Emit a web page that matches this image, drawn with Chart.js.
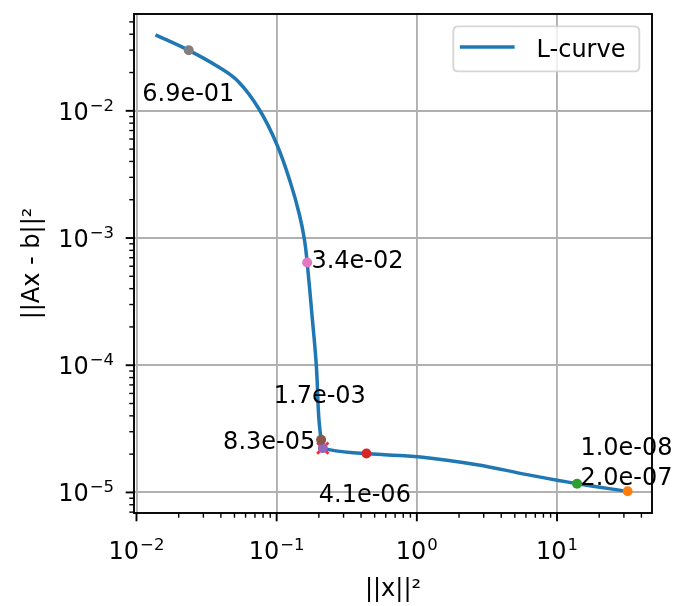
<!DOCTYPE html>
<html lang="en">
<head>
<meta charset="UTF-8">
<title>L-curve</title>
<script src="https://cdn.jsdelivr.net/npm/chart.js@4.4.1/dist/chart.umd.min.js"></script>
<style>
    html, body { margin: 0; padding: 0; background: #fff; }
    #wrap { width: 678px; height: 606px; }
</style>
</head>
<body>
<div id="wrap"><canvas id="lcurve" width="678" height="606"></canvas></div>
<script>
// L-curve samples: ||x||^2 on x, ||Ax - b||^2 on y (both log)
const curveX = [0.01366, 0.0236, 0.03721, 0.05339, 0.0754, 0.1005, 0.1255, 0.1454, 0.1579, 0.165, 0.179, 0.192, 0.1996, 0.2076, 0.2133, 0.437, 1.061, 2.69, 6.12, 13.9, 31.9];
const curveY = [0.0396, 0.0299, 0.02262, 0.01694, 0.0102, 0.005414, 0.002721, 0.001525, 9.7e-4, 6.43e-4, 2.42e-4, 9.8e-5, 3.95e-5, 2.59e-5, 2.23e-5, 2.02e-5, 1.90e-5, 1.65e-5, 1.38e-5, 1.17e-5, 1.02e-5];

// marked regularisation parameters
const lambdaText = ['1.0e-08', '2.0e-07', '4.1e-06', '8.3e-05', '1.7e-03', '3.4e-02', '6.9e-01'];
const markX = [31.9, 13.9, 0.437, 0.2133, 0.2076, 0.165, 0.0236];
const markY = [1.02e-5, 1.17e-5, 2.02e-5, 2.23e-5, 2.59e-5, 6.43e-4, 0.0299];
// where each lambda label sits (data coords, left/baseline)
const labelX = [14.69, 14.69, 0.1997, 0.0415, 0.0953, 0.177, 0.01099];
const labelY = [1.96e-5, 1.15e-5, 8.45e-6, 2.21e-5, 5.05e-5, 5.85e-4, 0.01186];

// chosen corner
const cornerX = [0.2133];
const cornerY = [2.23e-5];

// major ticks
const xMajor = [1e-2, 1e-1, 1e0, 1e1];
const yMajor = [1e-5, 1e-4, 1e-3, 1e-2];
const xExp = ['\u22122', '\u22121', '0', '1'];
const yExp = ['\u22125', '\u22124', '\u22123', '\u22122'];

const X_MIN = 0.0096, X_MAX = 47.6;
const Y_MIN = 6.89e-6, Y_MAX = 0.0577;

const markColors = ['#ff7f0e', '#2ca02c', '#d62728', '#9467bd', '#8c564b', '#e377c2', '#7f7f7f'];
const FONT = '"DejaVu Sans", sans-serif';

function minorsBetween(lo, hi) {
    const out = [];
    for (let e = Math.floor(Math.log10(lo)); e <= Math.ceil(Math.log10(hi)); e++) {
        for (let m = 2; m <= 9; m++) {
            const v = m * Math.pow(10, e);
            if (v >= lo && v <= hi) out.push(v);
        }
    }
    return out;
}

function roundRect(ctx, x, y, w, h, r) {
    ctx.beginPath();
    ctx.moveTo(x + r, y);
    ctx.lineTo(x + w - r, y);
    ctx.quadraticCurveTo(x + w, y, x + w, y + r);
    ctx.lineTo(x + w, y + h - r);
    ctx.quadraticCurveTo(x + w, y + h, x + w - r, y + h);
    ctx.lineTo(x + r, y + h);
    ctx.quadraticCurveTo(x, y + h, x, y + h - r);
    ctx.lineTo(x, y + r);
    ctx.quadraticCurveTo(x, y, x + r, y);
    ctx.closePath();
}

// spines, tick marks, mathtext-like tick labels, annotations, legend
const axesDecor = {
    id: 'axesDecor',
    afterDatasetsDraw(chart) {
        const { ctx, chartArea: a, scales: { x, y } } = chart;
        ctx.save();

        // tick marks (outward)
        ctx.strokeStyle = '#000';
        xMajor.forEach(v => {
            const px = x.getPixelForValue(v);
            ctx.lineWidth = 1.9;
            ctx.beginPath(); ctx.moveTo(px, a.bottom); ctx.lineTo(px, a.bottom + 8.3); ctx.stroke();
        });
        minorsBetween(X_MIN, X_MAX).forEach(v => {
            const px = x.getPixelForValue(v);
            ctx.lineWidth = 1.4;
            ctx.beginPath(); ctx.moveTo(px, a.bottom); ctx.lineTo(px, a.bottom + 4.7); ctx.stroke();
        });
        yMajor.forEach(v => {
            const py = y.getPixelForValue(v);
            ctx.lineWidth = 1.9;
            ctx.beginPath(); ctx.moveTo(a.left, py); ctx.lineTo(a.left - 8.3, py); ctx.stroke();
        });
        minorsBetween(Y_MIN, Y_MAX).forEach(v => {
            const py = y.getPixelForValue(v);
            ctx.lineWidth = 1.4;
            ctx.beginPath(); ctx.moveTo(a.left, py); ctx.lineTo(a.left - 4.7, py); ctx.stroke();
        });

        // spines
        ctx.lineWidth = 1.9;
        ctx.strokeRect(a.left, a.top, a.right - a.left, a.bottom - a.top);

        // tick labels 10^n
        ctx.fillStyle = '#000';
        ctx.textAlign = 'left';
        ctx.textBaseline = 'alphabetic';
        const big = '24px ' + FONT, small = '16.5px ' + FONT;
        function tenTo(exp, left, base) {
            ctx.font = big;
            const w10 = ctx.measureText('10').width;
            ctx.fillText('10', left, base);
            ctx.font = small;
            ctx.fillText(exp, left + w10 + 1, base - 9.3);
        }
        function tenWidth(exp) {
            ctx.font = big;
            const w10 = ctx.measureText('10').width;
            ctx.font = small;
            return w10 + 1 + ctx.measureText(exp).width;
        }
        xMajor.forEach((v, i) => {
            const px = x.getPixelForValue(v);
            tenTo(xExp[i], px - tenWidth(xExp[i]) / 2, 559.3);
        });
        yMajor.forEach((v, i) => {
            const py = y.getPixelForValue(v);
            tenTo(yExp[i], a.left - 20 - tenWidth(yExp[i]), py + 9);
        });

        // axis titles
        ctx.font = big;
        ctx.textAlign = 'center';
        ctx.fillText('||x||\u00b2', (a.left + a.right) / 2, 596);
        ctx.save();
        ctx.translate(39, (a.top + a.bottom) / 2);
        ctx.rotate(-Math.PI / 2);
        ctx.fillText('||Ax - b||\u00b2', 0, 0);
        ctx.restore();

        // lambda labels
        ctx.textAlign = 'left';
        lambdaText.forEach((t, i) => {
            ctx.fillText(t, x.getPixelForValue(labelX[i]), y.getPixelForValue(labelY[i]));
        });

        // legend
        const ds = chart.data.datasets[0];
        const bw = 186, bh = 45;
        const bx = a.right - 12.7 - bw, by = a.top + 12.4;
        roundRect(ctx, bx, by, bw, bh, 5);
        ctx.fillStyle = 'rgba(255,255,255,0.8)';
        ctx.fill();
        ctx.strokeStyle = 'rgba(204,204,204,0.8)';
        ctx.lineWidth = 1.9;
        ctx.stroke();
        ctx.strokeStyle = ds.borderColor;
        ctx.lineWidth = 3.5;
        ctx.beginPath();
        ctx.moveTo(bx + 6.6, by + 20.6);
        ctx.lineTo(bx + 61.3, by + 20.6);
        ctx.stroke();
        ctx.fillStyle = '#000';
        ctx.font = big;
        ctx.fillText(ds.label, bx + 83.3, by + 31);

        ctx.restore();
    }
};

const curvePts = curveX.map((v, i) => ({ x: v, y: curveY[i] }));
const markPts = markX.map((v, i) => ({ x: v, y: markY[i] }));
const cornerPts = cornerX.map((v, i) => ({ x: v, y: cornerY[i] }));

new Chart(document.getElementById('lcurve'), {
    type: 'scatter',
    data: {
        datasets: [
            {
                label: 'L-curve',
                data: curvePts,
                showLine: true,
                tension: 0.4,
                borderColor: '#1f77b4',
                borderWidth: 3.5,
                pointRadius: 0,
                fill: false,
                order: 3
            },
            {
                label: 'corner',
                data: cornerPts,
                pointStyle: 'crossRot',
                pointRadius: 8,
                pointBorderColor: 'rgba(255,0,0,0.85)',
                pointBorderWidth: 2.6,
                order: 2
            },
            {
                label: 'lambdas',
                data: markPts,
                pointRadius: 5,
                pointBackgroundColor: markColors,
                pointBorderWidth: 0,
                order: 1
            }
        ]
    },
    options: {
        responsive: false,
        animation: false,
        devicePixelRatio: 1,
        layout: { padding: { top: 14, right: 26, left: 0, bottom: 0 } },
        plugins: {
            legend: { display: false },
            tooltip: { enabled: false }
        },
        scales: {
            x: {
                type: 'logarithmic',
                min: X_MIN,
                max: X_MAX,
                ticks: { display: false },
                grid: { color: '#b0b0b0', lineWidth: 1.9, drawTicks: false },
                border: { display: false },
                afterBuildTicks: s => { s.ticks = xMajor.map(v => ({ value: v })); },
                afterFit: s => { s.height = 93; }
            },
            y: {
                type: 'logarithmic',
                min: Y_MIN,
                max: Y_MAX,
                ticks: { display: false },
                grid: { color: '#b0b0b0', lineWidth: 1.9, drawTicks: false },
                border: { display: false },
                afterBuildTicks: s => { s.ticks = yMajor.map(v => ({ value: v })); },
                afterFit: s => { s.width = 134; }
            }
        }
    },
    plugins: [axesDecor]
});
</script>
</body>
</html>
